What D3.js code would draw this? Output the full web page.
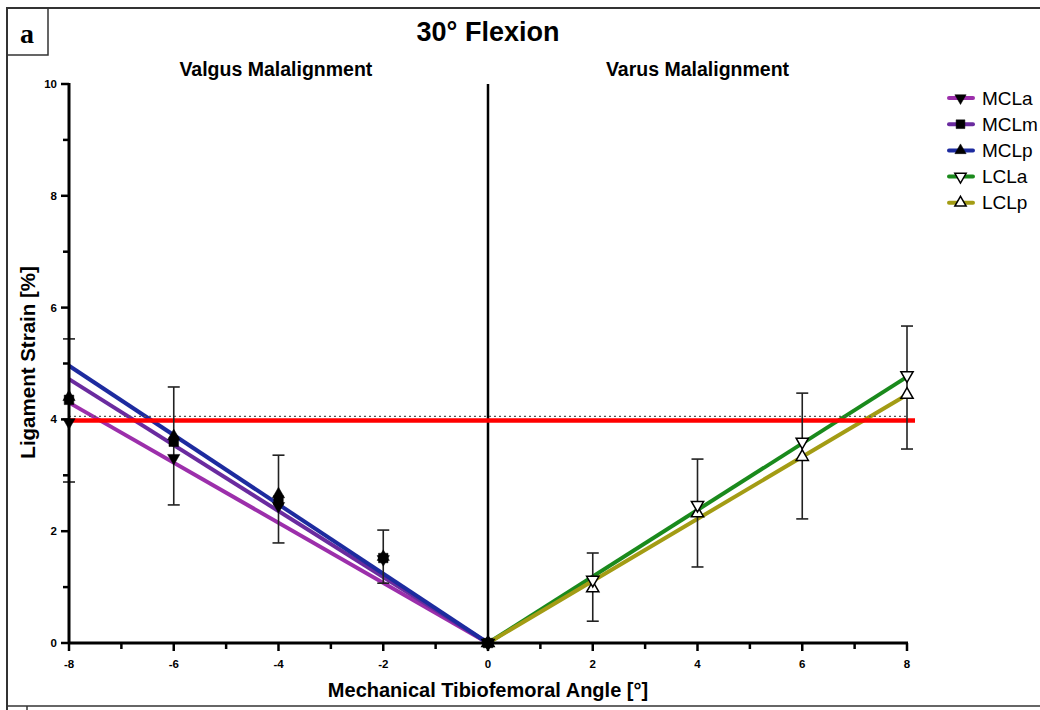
<!DOCTYPE html>
<html>
<head>
<meta charset="utf-8">
<script src="https://cdn.jsdelivr.net/npm/d3@7"></script>
<style>
  body { margin: 0; background: #fff; }
  svg { display: block; }
  text { font-family: "Liberation Sans", Arial, Helvetica, sans-serif; }
  .bold { font-weight: bold; }
</style>
</head>
<body>
<div id="chart"></div>
<script>
// x positions (mechanical tibiofemoral angle, degrees)
const valgusAngles = [-8, -6, -4, -2, 0]
const varusAngles  = [0, 2, 4, 6, 8]

// mean strain [%]
const mclA = [3.95, 3.31, 2.45, 1.50, 0]
const mclM = [4.35, 3.60, 2.55, 1.52, 0]
const mclP = [4.40, 3.70, 2.66, 1.54, 0]
const lclA = [0, 1.13, 2.47, 3.60, 4.79]
const lclP = [0, 0.98, 2.32, 3.33, 4.44]

// fitted line value at the far end (|angle| = 8)
const fitEnd = { MCLa: 4.30, MCLm: 4.72, MCLp: 4.96, LCLa: 4.76, LCLp: 4.44 }

// error bars [angle, low, high]
const errorBars = [
  [-8, 2.88, 5.44], [-6, 2.47, 4.58], [-4, 1.79, 3.36], [-2, 1.07, 2.02],
  [2, 0.39, 1.61], [4, 1.36, 3.29], [6, 2.22, 4.47], [8, 3.47, 5.67]
]

const threshold = 4
const xTicks = [-8, -6, -4, -2, 0, 2, 4, 6, 8]
const yTicks = [0, 2, 4, 6, 8, 10]

const series = [
  { name: 'MCLa', xs: valgusAngles, ys: mclA, color: '#9c2fab', sym: 'down', fill: '#000', end: -8 },
  { name: 'MCLm', xs: valgusAngles, ys: mclM, color: '#6a2b9f', sym: 'square', fill: '#000', end: -8 },
  { name: 'MCLp', xs: valgusAngles, ys: mclP, color: '#1d2b9f', sym: 'up', fill: '#000', end: -8 },
  { name: 'LCLa', xs: varusAngles, ys: lclA, color: '#1a8a1c', sym: 'down', fill: '#fff', end: 8 },
  { name: 'LCLp', xs: varusAngles, ys: lclP, color: '#a39c14', sym: 'up', fill: '#fff', end: 8 }
]

const W = 1040, H = 710
const svg = d3.select('#chart').append('svg').attr('width', W).attr('height', H)

const x = d3.scaleLinear().domain([-8, 8]).range([69, 907])
const y = d3.scaleLinear().domain([0, 10]).range([643, 84])

// panel frame
svg.append('path').attr('d', `M7,${H} V8 H${W}`).attr('fill', 'none').attr('stroke', '#333').attr('stroke-width', 2)
svg.append('path').attr('d', 'M7,55 H48 V8').attr('fill', 'none').attr('stroke', '#333').attr('stroke-width', 1.5)
svg.append('line').attr('x1', 7).attr('x2', W).attr('y1', 706).attr('y2', 706).attr('stroke', '#333').attr('stroke-width', 1.5)
svg.append('line').attr('x1', 27).attr('x2', 27).attr('y1', 706).attr('y2', H).attr('stroke', '#333').attr('stroke-width', 1.5)
svg.append('text').attr('x', 27).attr('y', 43).attr('text-anchor', 'middle')
  .style('font-family', '"Liberation Serif", serif').style('font-weight', 'bold').style('font-size', '28px').text('a')

// titles
svg.append('text').attr('class', 'bold').attr('x', x(0)).attr('y', 41).attr('text-anchor', 'middle')
  .style('font-size', '27px').text('30° Flexion')
svg.append('text').attr('class', 'bold').attr('x', x(-4.05)).attr('y', 76).attr('text-anchor', 'middle')
  .style('font-size', '19.5px').text('Valgus Malalignment')
svg.append('text').attr('class', 'bold').attr('x', x(4.0)).attr('y', 76).attr('text-anchor', 'middle')
  .style('font-size', '19.5px').text('Varus Malalignment')

// fit lines
series.forEach(s => {
  svg.append('line')
    .attr('x1', x(0)).attr('y1', y(0))
    .attr('x2', x(s.end)).attr('y2', y(fitEnd[s.name]))
    .attr('stroke', s.color).attr('stroke-width', 4)
})

// centre line
svg.append('line').attr('x1', x(0)).attr('x2', x(0)).attr('y1', y(0)).attr('y2', y(10))
  .attr('stroke', '#000').attr('stroke-width', 2.5)

// threshold
svg.append('line').attr('x1', x(-8)).attr('x2', x(8)).attr('y1', y(threshold) - 3).attr('y2', y(threshold) - 3)
  .attr('stroke', '#555').attr('stroke-width', 1.2).attr('stroke-dasharray', '2,3')
svg.append('line').attr('x1', x(-8)).attr('x2', x(8) + 8).attr('y1', y(threshold) + 1).attr('y2', y(threshold) + 1)
  .attr('stroke', '#ff0000').attr('stroke-width', 4.5)

// error bars
const eb = svg.append('g').attr('stroke', '#222').attr('stroke-width', 1.6)
errorBars.forEach(([a, lo, hi]) => {
  eb.append('line').attr('x1', x(a)).attr('x2', x(a)).attr('y1', y(lo)).attr('y2', y(hi))
  eb.append('line').attr('x1', x(a) - 6).attr('x2', x(a) + 6).attr('y1', y(lo)).attr('y2', y(lo))
  eb.append('line').attr('x1', x(a) - 6).attr('x2', x(a) + 6).attr('y1', y(hi)).attr('y2', y(hi))
})

const symbolPath = (sym, size) => {
  if (sym === 'square') return d3.symbol(d3.symbolSquare, size * 1.4)()
  return d3.symbol(d3.symbolTriangle, size)()
}
const drawMarker = (g, s, cx, cy, size) => {
  g.append('path')
    .attr('d', symbolPath(s.sym, size))
    .attr('transform', `translate(${cx},${cy})` + (s.sym === 'down' ? ' rotate(180)' : ''))
    .attr('fill', s.fill).attr('stroke', '#000').attr('stroke-width', s.fill === '#fff' ? 1.5 : 0.5)
}

// markers (drawn back to front so the filled MCL markers sit on top at the origin)
const mk = svg.append('g')
series.slice().reverse().forEach(s => {
  s.xs.forEach((a, i) => drawMarker(mk, s, x(a), y(s.ys[i]), 65))
})

// axes
const xAxis = svg.append('g').attr('transform', `translate(0,${y(0)})`)
xAxis.append('line').attr('x1', x(-8) - 1).attr('x2', x(8) + 1).attr('stroke', '#000').attr('stroke-width', 3)
d3.range(-8, 9).forEach(v => {
  xAxis.append('line').attr('x1', x(v)).attr('x2', x(v)).attr('y1', 0).attr('y2', v % 2 === 0 ? 8 : 6)
    .attr('stroke', '#000').attr('stroke-width', 2.5)
})
xAxis.selectAll('text.tick').data(xTicks).join('text')
  .attr('class', 'bold').attr('x', d => x(d)).attr('y', 25).attr('text-anchor', 'middle')
  .style('font-size', '11.5px').text(d => d)

const yAxis = svg.append('g').attr('transform', `translate(${x(-8)},0)`)
yAxis.append('line').attr('y1', y(0) + 1).attr('y2', y(10) - 1).attr('stroke', '#000').attr('stroke-width', 3)
d3.range(0, 11).forEach(v => {
  yAxis.append('line').attr('x1', 0).attr('x2', v % 2 === 0 ? -8 : -6).attr('y1', y(v)).attr('y2', y(v))
    .attr('stroke', '#000').attr('stroke-width', 2.5)
})
yAxis.selectAll('text.tick').data(yTicks).join('text')
  .attr('class', 'bold').attr('x', -12).attr('y', d => y(d) + 4).attr('text-anchor', 'end')
  .style('font-size', '11.5px').text(d => d)

svg.append('text').attr('class', 'bold').attr('x', x(0)).attr('y', 697).attr('text-anchor', 'middle')
  .style('font-size', '20px').text('Mechanical Tibiofemoral Angle [°]')
svg.append('text').attr('class', 'bold').attr('transform', `translate(35,${y(5.02)}) rotate(-90)`).attr('text-anchor', 'middle')
  .style('font-size', '20.5px').text('Ligament Strain [%]')

// legend
const lg = svg.append('g').attr('transform', 'translate(946,98)')
series.forEach((s, i) => {
  const row = lg.append('g').attr('transform', `translate(0,${i * 26.2})`)
  row.append('line').attr('x1', 3).attr('x2', 27).attr('stroke', s.color).attr('stroke-width', 4).attr('stroke-linecap', 'round')
  drawMarker(row, s, 14.5, 0, 55)
  row.append('text').attr('x', 36).attr('y', 6.5).style('font-size', '19px').text(s.name)
})
</script>
</body>
</html>
